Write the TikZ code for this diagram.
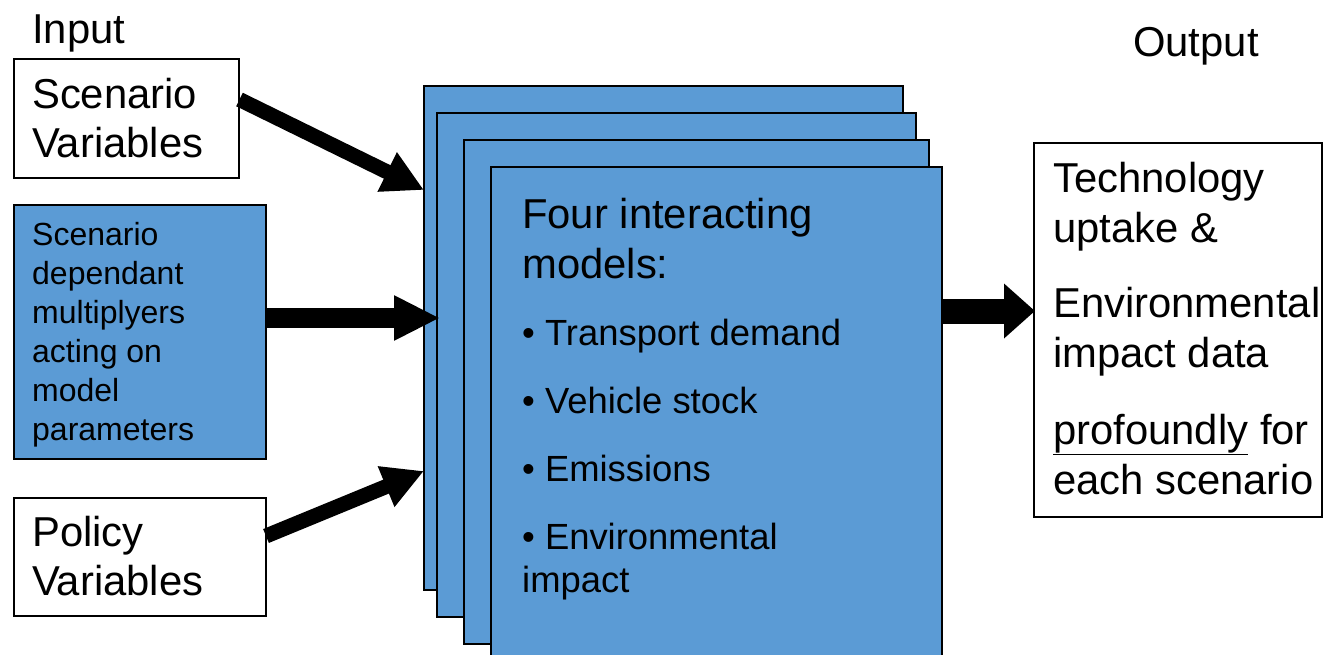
\documentclass[tikz,border=0pt]{standalone}
\usepackage{fontspec}
\setmainfont{Liberation Sans}
\usetikzlibrary{arrows.meta}
\definecolor{boxblue}{RGB}{91,155,213}
\begin{document}
\begin{tikzpicture}[x=1pt,y=-1pt,
  whitebox/.style={draw=black, line width=1.5pt, fill=white, inner sep=0pt},
  bluebox/.style={draw=black, line width=2pt, fill=boxblue, inner sep=0pt},
  big/.style={anchor=base west, inner sep=0pt, font=\fontsize{41.8}{48}\selectfont},
  mid/.style={anchor=base west, inner sep=0pt, font=\fontsize{36.4}{42}\selectfont},
  small/.style={anchor=base west, inner sep=0pt, font=\fontsize{32}{39}\selectfont},
  blockarrow/.style={draw=black, line cap=butt}
]
\useasboundingbox (0,0) rectangle (1323,654);
\clip (0,0) rectangle (1323,654);

% input boxes
\node[whitebox, minimum width=225pt, minimum height=119pt] (sv) at (126.5,118.5) {};
\node[bluebox, minimum width=252pt, minimum height=254pt] (sd) at (140,332) {};
\node[whitebox, minimum width=252pt, minimum height=118pt] (pv) at (140,557) {};

% model stack
\node[bluebox, minimum width=479pt, minimum height=504pt] (m1) at (663.5,338) {};
\node[bluebox, minimum width=479pt, minimum height=504pt] (m2) at (676.5,365) {};
\node[bluebox, minimum width=465pt, minimum height=504pt] (m3) at (696.5,392) {};
\node[bluebox, minimum width=451pt, minimum height=504pt] (m4) at (716.5,419) {};

% output box
\node[whitebox, minimum width=288pt, minimum height=374pt] (out) at (1178,330) {};

% headings
\node[big] (input) at (32,43) {Input};
\node[big] (output) at (1133,56) {Output};

% texts
\node[big] (sv1) at (32,108) {Scenario};
\node[big] (sv2) at (32,157) {Variables};

\node[small] (sd1) at (32,245) {Scenario};
\node[small] (sd2) at (32,284) {dependant};
\node[small] (sd3) at (32,323) {multiplyers};
\node[small] (sd4) at (32,362) {acting on};
\node[small] (sd5) at (32,401) {model};
\node[small] (sd6) at (32,440) {parameters};

\node[big] (pv1) at (32,546) {Policy};
\node[big] (pv2) at (32,595) {Variables};

\node[big] (m1t) at (522,228) {Four interacting};
\node[big] (m2t) at (522,278) {models:};
\node[mid] (b1) at (522,345) {\textbullet\ Transport demand};
\node[mid] (b2) at (522,413) {\textbullet\ Vehicle stock};
\node[mid] (b3) at (522,481) {\textbullet\ Emissions};
\node[mid] (b4) at (522,549) {\textbullet\ Environmental};
\node[mid] (b5) at (522,592) {impact};

\node[big] (o1) at (1053,192) {Technology};
\node[big] (o2) at (1053,242) {uptake \&};
\node[big] (o3) at (1053,317) {Environmental};
\node[big] (o4) at (1053,367) {impact data};
\node[big] (o5) at (1053,444) {\underline{profoundly} for};
\node[big] (o6) at (1053,494) {each scenario};

% arrows
\coordinate (a1s) at (239.5,99.5);
\coordinate (a1e) at (424,190);
\coordinate (a2s) at (sd.east |- 0,318);
\coordinate (a2e) at (440,318);
\coordinate (a3s) at (266,536);
\coordinate (a3e) at (424,471);
\coordinate (a4s) at (m4.east |- 0,311);
\coordinate (a4e) at (1035,311);

\draw[blockarrow, line width=15pt, -{Triangle[length=41pt,width=41pt]}] (a1s) -- (a1e);
\draw[blockarrow, line width=20pt, -{Triangle[length=46pt,width=42pt]}] (a2s) -- (a2e);
\draw[blockarrow, line width=15pt, -{Triangle[length=41pt,width=41pt]}] (a3s) -- (a3e);
\draw[blockarrow, line width=25pt, -{Triangle[length=31pt,width=53pt]}] (a4s) -- (a4e);
\end{tikzpicture}
\end{document}
